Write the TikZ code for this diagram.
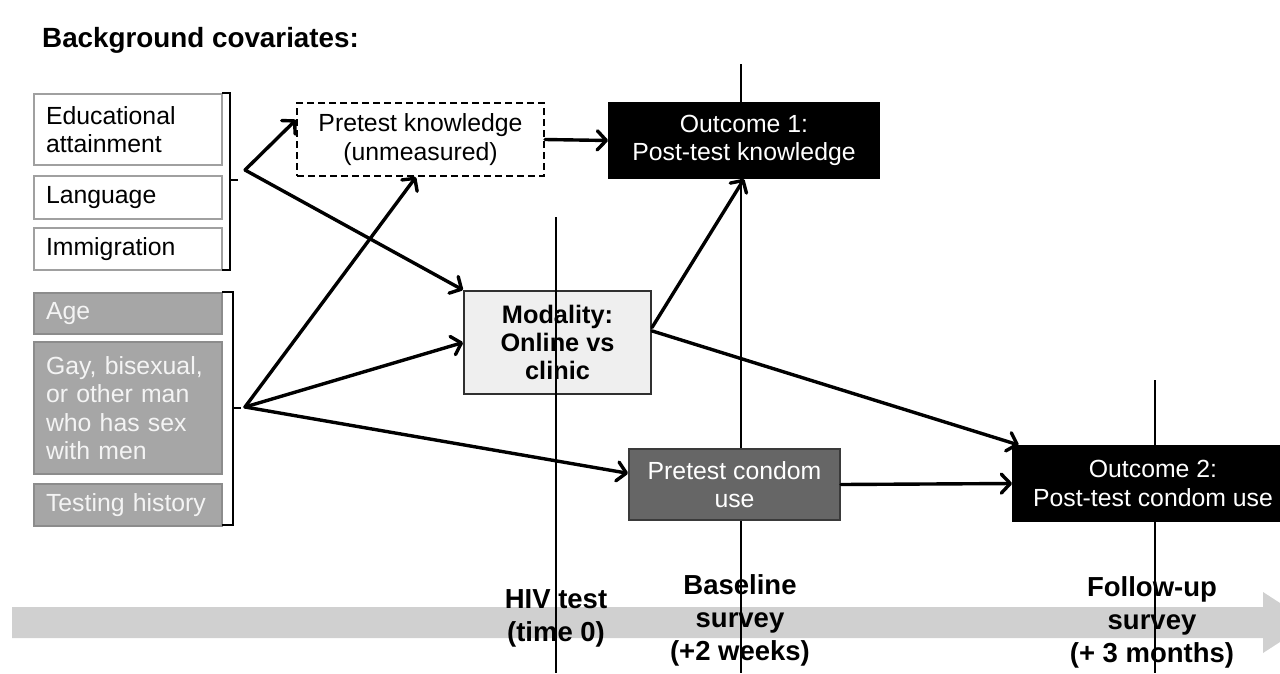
\documentclass[tikz,border=0pt]{standalone}
\usepackage{fontspec}
\setmainfont{Liberation Sans}
\usetikzlibrary{arrows.meta}
\definecolor{boxgray}{HTML}{A0A0A0}
\definecolor{covgray}{HTML}{A6A6A6}
\definecolor{covborder}{HTML}{8C8C8C}
\definecolor{covtext}{HTML}{F4F4F4}
\definecolor{modfill}{HTML}{EFEFEF}
\definecolor{modborder}{HTML}{303030}
\definecolor{condfill}{HTML}{666666}
\definecolor{condborder}{HTML}{3A3A3A}
\definecolor{bandgray}{HTML}{D0D0D0}
\newcommand\myreg{\fontsize{24.8}{28.5}\selectfont}
\newcommand\mybold{\fontsize{25.3}{28.3}\selectfont\bfseries}
\newcommand\mytime{\fontsize{27.5}{33}\selectfont\bfseries}
\newcommand\mytitle{\fontsize{27.8}{32}\selectfont\bfseries}
\begin{document}
\begin{tikzpicture}[x=1pt,y=-1pt,
  lbox/.style={draw=boxgray, line width=2pt, fill=white, text=black, anchor=north west,
    inner xsep=12pt, inner ysep=0pt, text width=164pt, minimum height=#1, align=left, font=\myreg},
  gbox/.style={lbox=#1, fill=covgray, draw=covborder, text=covtext},
  cbox/.style={anchor=north west, inner sep=0pt, align=center, line width=2pt},
  arr/.style={line width=3.4pt, line cap=round, -{Straight Barb[length=9pt,width=19pt,round]}},
  brk/.style={line width=2.4pt},
  vline/.style={line width=1.2pt, black},
  tlabel/.style={align=center, font=\mytime, inner sep=0pt}
]
\useasboundingbox (0,0) rectangle (1280,673);

% title
\node[font=\mytitle, anchor=west, inner sep=0pt] (title) at (42,40) {Background covariates:};

% timeline band
\fill[bandgray] (12,607) -- (1263,607) -- (1263,592) -- (1310,622.5) -- (1263,653) -- (1263,638) -- (12,638) -- cycle;
\node[tlabel] (hiv) at (556,618.5) {HIV test\\(time 0)};
\node[tlabel] (base) at (740,620) {Baseline\\survey\\(+2 weeks)};
\node[tlabel] (follow) at (1152,622) {Follow-up\\survey\\(+ 3 months)};

% left covariate boxes
\node[lbox=71pt] (edu) at (33,93) {Educational attainment};
\node[lbox=43pt] (lang) at (33,175) {Language};
\node[lbox=42pt] (immig) at (33,227) {Immigration};
\node[gbox=41pt] (age) at (33,292) {Age};
\node[gbox=132pt] (gay) at (33,341) {Gay, bisexual, or other man who has sex with men};
\node[gbox=42pt] (test) at (33,483) {Testing history};

% light boxes
\node[cbox, draw=black, fill=white, dash pattern=on 7pt off 4pt, minimum width=247pt, minimum height=73pt, font=\myreg] (pk) at (296,102) {Pretest knowledge\\(unmeasured)};
\node[cbox, draw=modborder, fill=modfill, minimum width=187pt, minimum height=103pt, font=\mybold] (mod) at (463,290) {Modality:\\Online vs\\clinic};

% vertical time lines
\coordinate (l1a) at (556,217); \coordinate (l1b) at (556,673);
\coordinate (l2a) at (741,64);  \coordinate (l2b) at (741,673);
\coordinate (l3a) at (1155,380); \coordinate (l3b) at (1155,673);
\draw[vline] (l1a) -- (l1b);
\draw[vline] (l2a) -- (l2b);
\draw[vline] (l3a) -- (l3b);

% dark boxes
\node[cbox, draw=black, fill=black, text=white, minimum width=270pt, minimum height=75pt, font=\myreg] (out1) at (608,102) {Outcome 1:\\Post-test knowledge};
\node[cbox, draw=condborder, fill=condfill, text=white, minimum width=211pt, minimum height=71pt, font=\myreg] (cond) at (628,448) {Pretest condom\\use};
\node[cbox, draw=black, fill=black, text=white, minimum width=280pt, minimum height=75pt, font=\myreg] (out2) at (1012,445) {Outcome 2:\\Post-test condom use};

% brackets
\draw[brk] (222,93) -- (230,93) -- (230,270) -- (222,270);
\draw[brk] (230,180) -- (238,180);
\draw[brk] (222,292) -- (233,292) -- (233,525) -- (222,525);
\draw[brk] (233,408) -- (241,408);

% arrows
\coordinate (v1) at (245,170);
\coordinate (v2) at (245,407);
\draw[arr] (v1) -- (pk.171);
\draw[arr] (v1) -- (mod.north west);
\draw[arr] (v2) -- (pk.263);
\draw[arr] (v2) -- (mod.west);
\draw[arr] (v2) -- (cond.174);
\draw[arr] (pk.east) -- (out1.west);
\draw[arr] (mod.9) -- (out1.south);
\draw[arr] (mod.7) -- (out2.164);
\draw[arr] (cond.east) -- (out2.west);
\end{tikzpicture}
\end{document}
